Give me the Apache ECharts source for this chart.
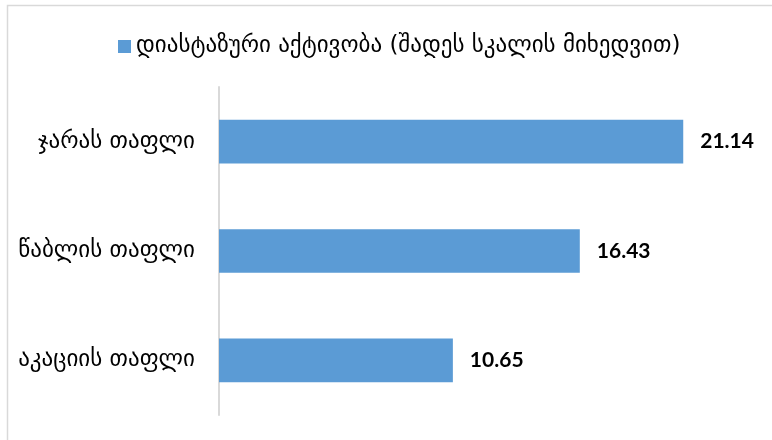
<!DOCTYPE html>
<html>
<head>
<meta charset="utf-8">
<script src="https://cdn.jsdelivr.net/npm/echarts@6/dist/echarts.min.js"></script>
<style>
html,body{margin:0;padding:0;background:#fff;}
#chart{width:772px;height:440px;}
</style>
</head>
<body>
<div id="chart"></div>
<script>
const categories = ['აკაციის თაფლი', 'წაბლის თაფლი', 'ჯარას თაფლი'];
const values = [10.65, 16.43, 21.14];
const seriesName = 'დიასტაზური აქტივობა (შადეს სკალის მიხედვით)';

const chart = echarts.init(document.getElementById('chart'), null, {renderer: 'canvas'});
chart.setOption({
  animation: false,
  backgroundColor: '#ffffff',
  graphic: [{
    type: 'rect',
    shape: {x: 7.5, y: 5.5, width: 800, height: 500},
    style: {fill: 'none', stroke: '#d9d9d9', lineWidth: 1.5},
    silent: true
  }],
  legend: {
    left: 113,
    top: 30,
    icon: 'rect',
    itemWidth: 13,
    itemHeight: 13,
    itemGap: 5,
    textStyle: {fontFamily: 'DejaVu Sans', fontSize: 23, color: '#000', padding: [0, 0, 0, 0]},
    data: [seriesName]
  },
  grid: {left: 219, top: 87, width: 549, height: 328, containLabel: false},
  xAxis: {
    type: 'value',
    min: 0,
    max: 25,
    show: false
  },
  yAxis: {
    type: 'category',
    data: categories,
    axisLine: {show: true, lineStyle: {color: '#d9d9d9', width: 2}},
    axisTick: {show: false},
    axisLabel: {margin: 24, fontFamily: 'DejaVu Sans', fontSize: 23, color: '#000'},
    splitLine: {show: false}
  },
  series: [{
    name: seriesName,
    type: 'bar',
    data: values,
    barCategoryGap: '60%',
    itemStyle: {color: '#5b9bd5'},
    label: {
      show: true,
      position: 'right',
      distance: 17,
      fontFamily: 'Lato',
      fontWeight: 'bold',
      fontSize: 21,
      color: '#000',
      formatter: p => p.value.toFixed(2)
    }
  }]
});
</script>
</body>
</html>
